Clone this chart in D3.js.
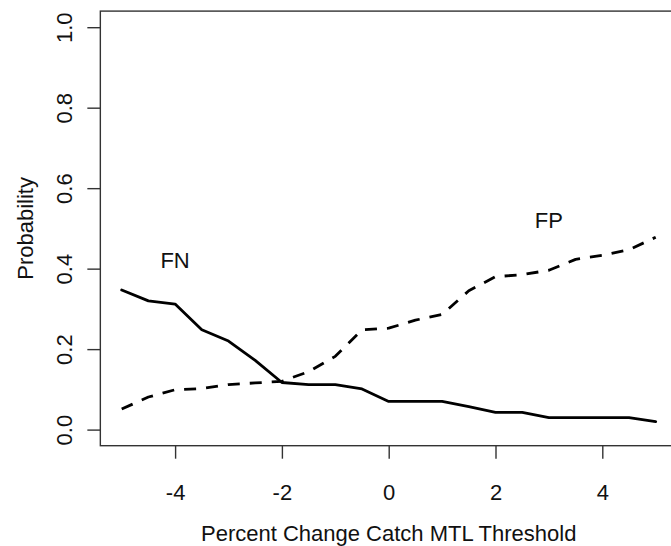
<!DOCTYPE html>
<html>
<head>
<meta charset="utf-8">
<script src="https://cdn.jsdelivr.net/npm/d3@7"></script>
<style>
  body { margin: 0; background: #fff; }
  text { font-family: "Liberation Sans", Arial, sans-serif; fill: #111; }
</style>
</head>
<body>
<svg id="chart"></svg>
<script>
// Values
const thresholds = [-5, -4.5, -4, -3.5, -3, -2.5, -2, -1.5, -1, -0.5, 0, 0.5, 1, 1.5, 2, 2.5, 3, 3.5, 4, 4.5, 5];
const fnProb = [0.347, 0.320, 0.312, 0.248, 0.220, 0.172, 0.117, 0.112, 0.112, 0.101, 0.070,
  0.070, 0.070, 0.057, 0.043, 0.043, 0.030, 0.030, 0.030, 0.030, 0.020];
const fpProb = [0.051, 0.081, 0.099, 0.102, 0.112, 0.116, 0.120, 0.144, 0.182, 0.248, 0.252,
  0.272, 0.286, 0.345, 0.380, 0.385, 0.396, 0.423, 0.433, 0.447, 0.478];
const xTicks = [-4, -2, 0, 2, 4];
const yTicks = [0, 0.2, 0.4, 0.6, 0.8, 1.0];
const seriesLabels = [
  { name: "FN", x: -4, y: 0.42 },
  { name: "FP", x: 3, y: 0.52 }
];

const W = 671, H = 546;
const svg = d3.select("#chart").attr("width", W).attr("height", H);

// R style scales, 4% padding around data range
const x = d3.scaleLinear().domain([-5, 5]).range([121.7, 655.7]);
const y = d3.scaleLinear().domain([0, 1]).range([429.6, 27.2]);

const boxL = x(-5.4), boxR = x(5.4), boxT = y(1.04), boxB = y(-0.04);

// x axis (plain hyphen minus like R)
const xAxis = svg.append("g")
  .attr("transform", `translate(0, ${boxB})`)
  .call(d3.axisBottom(x).tickValues(xTicks).tickFormat(d => String(d))
    .tickSize(13).tickPadding(25.4).tickSizeOuter(0));
xAxis.select(".domain").remove();
xAxis.selectAll(".tick line").attr("stroke", "#333").attr("stroke-width", 1.4);
xAxis.selectAll(".tick text").attr("font-size", 22).attr("font-family", null).attr("fill", null);

// y axis
const yAxis = svg.append("g")
  .attr("transform", `translate(${boxL}, 0)`)
  .call(d3.axisLeft(y).tickValues(yTicks).tickFormat(d3.format(".1f")).tickSize(13).tickSizeOuter(0));
yAxis.select(".domain").remove();
yAxis.selectAll(".tick line").attr("stroke", "#333").attr("stroke-width", 1.4);
yAxis.selectAll(".tick text")
  .attr("font-size", 22).attr("font-family", null).attr("fill", null)
  .attr("transform", "rotate(-90)")
  .attr("text-anchor", "middle")
  .attr("x", 0).attr("y", -28.3).attr("dy", null);

// plot box
svg.append("rect")
  .attr("x", boxL).attr("y", boxT)
  .attr("width", boxR - boxL).attr("height", boxB - boxT)
  .attr("fill", "none").attr("stroke", "#333").attr("stroke-width", 1.4);

// axis titles
svg.append("text")
  .attr("x", (boxL + boxR) / 2).attr("y", 541)
  .attr("text-anchor", "middle").attr("font-size", 22)
  .text("Percent Change Catch MTL Threshold");

svg.append("text")
  .attr("transform", `translate(33, ${(y(0) + y(1)) / 2}) rotate(-90)`)
  .attr("text-anchor", "middle").attr("font-size", 22)
  .text("Probability");

// lines
const line = d3.line()
  .x((d, i) => x(thresholds[i]))
  .y(d => y(d));

svg.append("path")
  .datum(fnProb)
  .attr("d", line)
  .attr("fill", "none").attr("stroke", "#000").attr("stroke-width", 2.8)
  .attr("stroke-linejoin", "round").attr("stroke-linecap", "round");

svg.append("path")
  .datum(fpProb)
  .attr("d", line)
  .attr("fill", "none").attr("stroke", "#000").attr("stroke-width", 2.8)
  .attr("stroke-dasharray", "12 10")
  .attr("stroke-linejoin", "round").attr("stroke-linecap", "butt");

// series labels
svg.selectAll(".lab")
  .data(seriesLabels)
  .enter()
  .append("text")
  .attr("class", "lab")
  .attr("x", d => x(d.x)).attr("y", d => y(d.y))
  .attr("dy", "0.35em")
  .attr("text-anchor", "middle").attr("font-size", 22)
  .text(d => d.name);
</script>
</body>
</html>
